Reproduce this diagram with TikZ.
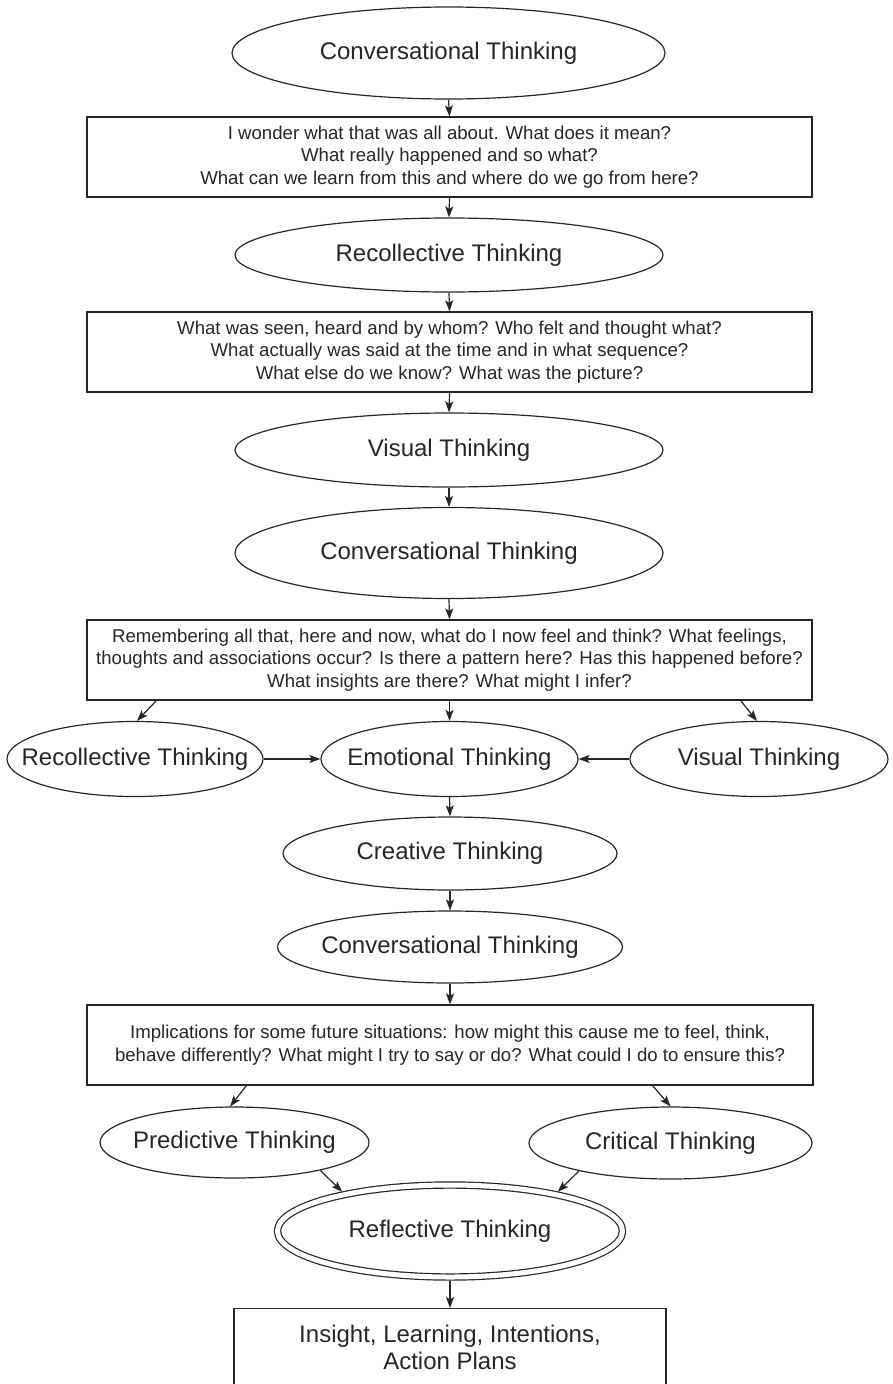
\documentclass[tikz,border=0pt]{standalone}
\usepackage{fontspec}
\setmainfont{Liberation Sans}
\usetikzlibrary{shapes.geometric,arrows.meta}
\definecolor{ink}{HTML}{262626}
\begin{document}
\begin{tikzpicture}[x=1pt,y=-1pt,
  every node/.style={text=ink},
  oval/.style={ellipse,draw=ink,line width=1.2pt,inner sep=0pt},
  lbl/.style={inner sep=0pt,font=\fontsize{24}{28}\selectfont},
  qbox/.style={rectangle,draw=ink,line width=1.2pt,inner sep=0pt,align=center,
    font=\fontsize{18.6}{22.5}\selectfont},
  flow/.style={draw=ink,line width=1.2pt,-{Stealth[length=11pt,width=8pt,inset=2.5pt]}},
]
\useasboundingbox (0,0) rectangle (893,1384);
\clip (0,0) rectangle (893,1384);

% upper chain
\node[oval,minimum width=433,minimum height=92,
  label={[lbl]center:Conversational Thinking}] (conv1) at (448.5,53) {};
\node[qbox,minimum width=725,minimum height=80] (box1) at (449.5,157)
  {I wonder what that was all about. What does it mean?\\
   What really happened and so what?\\
   What can we learn from this and where do we go from here?};
\node[oval,minimum width=428,minimum height=74,
  label={[lbl]center:Recollective Thinking}] (rec1) at (449,255) {};
\node[qbox,minimum width=725,minimum height=80] (box2) at (449.5,352)
  {What was seen, heard and by whom? Who felt and thought what?\\
   What actually was said at the time and in what sequence?\\
   What else do we know? What was the picture?};
\node[oval,minimum width=428,minimum height=74,
  label={[lbl]center:Visual Thinking}] (vis1) at (449,450) {};
\node[oval,minimum width=428,minimum height=91,
  label={[lbl]center:Conversational Thinking}] (conv2) at (449,553) {};
\node[qbox,minimum width=725,minimum height=80] (box3) at (449.5,660)
  {Remembering all that, here and now, what do I now feel and think? What feelings,\\
   thoughts and associations occur? Is there a pattern here? Has this happened before?\\
   What insights are there? What might I infer?};

% middle row
\node[oval,minimum width=256,minimum height=75,
  label={[lbl]center:Recollective Thinking}] (rec2) at (135,759) {};
\node[oval,minimum width=257,minimum height=75,
  label={[lbl]center:Emotional Thinking}] (emo) at (449.5,759) {};
\node[oval,minimum width=258,minimum height=75,
  label={[lbl]center:Visual Thinking}] (vis2) at (759,759) {};

% lower chain
\node[oval,minimum width=334,minimum height=73,
  label={[lbl]center:Creative Thinking}] (crea) at (450,853.5) {};
\node[oval,minimum width=345,minimum height=72,
  label={[lbl]center:Conversational Thinking}] (conv3) at (450,947) {};
\node[qbox,minimum width=726,minimum height=80] (box4) at (450,1045)
  {Implications for some future situations: how might this cause me to feel, think,\\
   behave differently? What might I try to say or do? What could I do to ensure this?};
\node[oval,minimum width=269,minimum height=71,
  label={[lbl]center:Predictive Thinking}] (pred) at (234.5,1142.5) {};
\node[oval,minimum width=283,minimum height=72,
  label={[lbl]center:Critical Thinking}] (crit) at (670.5,1143) {};
\node[oval,double=white,double distance=5pt,outer sep=3.6pt,
  minimum width=345,minimum height=92,
  label={[lbl]center:Reflective Thinking}] (refl) at (450,1231) {};
\node[rectangle,draw=ink,line width=1.2pt,anchor=north,align=center,
  minimum width=432,inner ysep=16.5pt,text depth=25pt,
  font=\fontsize{24}{27}\selectfont] (fin) at (450,1308)
  {Insight, Learning, Intentions,\\Action Plans};

% connectors
\draw[flow] (conv1.south) -- (box1.north);
\draw[flow] (box1.south) -- (rec1.north);
\draw[flow] (rec1.south) -- (box2.north);
\draw[flow] (box2.south) -- (vis1.north);
\draw[flow] (vis1.south) -- (conv2.north);
\draw[flow] (conv2.south) -- (box3.north);
\draw[flow] ([xshift=70pt]box3.south west) -- (rec2.87);
\draw[flow] (box3.south) -- (emo.north);
\draw[flow] ([xshift=-72pt]box3.south east) -- (vis2.93);
\draw[flow] (rec2.east) -- (emo.west);
\draw[flow] (vis2.west) -- (emo.east);
\draw[flow] (emo.south) -- (crea.north);
\draw[flow] (crea.south) -- (conv3.north);
\draw[flow] (conv3.south) -- (box4.north);
\draw[flow] ([xshift=160pt]box4.south west) -- (pred.97);
\draw[flow] ([xshift=-161pt]box4.south east) -- (crit.90);
\draw[flow] (pred.-18) -- (refl.160);
\draw[flow] (crit.197) -- (refl.20);
\draw[flow] (refl.south) -- (fin.north);
\end{tikzpicture}
\end{document}
